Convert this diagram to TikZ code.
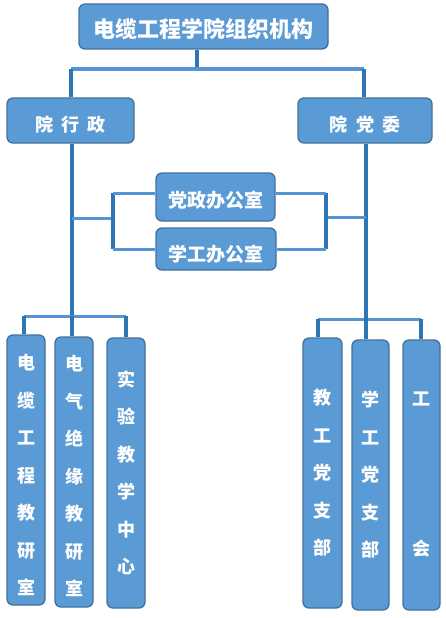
\documentclass[tikz,border=0pt]{standalone}
\usepackage{fontspec}
\newfontfamily\cjk{Noto Sans CJK SC}
\definecolor{boxc}{HTML}{5B9BD5}
\definecolor{bordc}{HTML}{41719C}
\definecolor{linedark}{HTML}{2E75B6}
\definecolor{linelight}{HTML}{5396D3}
\begin{document}
\begin{tikzpicture}[x=1pt,y=-1pt,
  box/.style={draw=bordc, fill=boxc, rounded corners=6pt, line width=1.3pt, text=white, font=\cjk\bfseries, inner sep=0pt, align=center},
  vbox/.style={box, minimum width=38pt, minimum height=270pt},
  vtext/.style={text=white, align=center, inner sep=0pt, font=\cjk\bfseries\fontsize{18}{37.5}\selectfont},
  vline/.style={draw=linedark, line width=3.5pt},
  hline/.style={draw=linelight, line width=3pt}]
\useasboundingbox (0,0) rectangle (446,618);
% nodes
\node[box, minimum width=249pt, minimum height=45pt, text height=22.5pt, text depth=0pt, font=\cjk\bfseries\fontsize{22}{24}\selectfont] (title) at (203.5,26.5) {电缆工程学院组织机构};
\node[box, minimum width=127pt, minimum height=45pt, text height=22pt, text depth=0pt, font=\cjk\bfseries\fontsize{18}{20}\selectfont] (xz) at (70.5,120.5) {院\hspace{8.5pt}行\hspace{8.5pt}政};
\node[box, minimum width=134pt, minimum height=45pt, text height=22pt, text depth=0pt, font=\cjk\bfseries\fontsize{18}{20}\selectfont] (dw) at (365,120.5) {院\hspace{8.5pt}党\hspace{8.5pt}委};
\node[box, minimum width=119pt, minimum height=48pt, text height=21pt, text depth=0pt, font=\cjk\bfseries\fontsize{19}{22}\selectfont] (dzb) at (215.5,197) {党政办公室};
\node[box, minimum width=120pt, minimum height=42pt, text height=24pt, text depth=0pt, font=\cjk\bfseries\fontsize{19}{22}\selectfont] (xgb) at (216,249) {学工办公室};
\node[vbox, label={[vtext, name=b1t, yshift=-5pt]center:电\\缆\\工\\程\\教\\研\\室}] (b1) at (26,470) {};
\node[vbox, label={[vtext, name=b2t, yshift=-4pt]center:电\\气\\绝\\缘\\教\\研\\室}] (b2) at (74,472) {};
\node[vbox, label={[vtext, name=b3t]center:实\\验\\教\\学\\中\\心}] (b3) at (126,473) {};
\node[vbox, minimum width=39pt, label={[vtext, name=b4t]center:教\\工\\党\\支\\部}] (b4) at (322.5,473) {};
\node[vbox, minimum width=37pt, label={[vtext, name=b5t]center:学\\工\\党\\支\\部}] (b5) at (370.5,475) {};
\node[vbox, minimum width=37pt, label={[vtext, name=b6t]center:工\\[112.5pt]会}] (b6) at (421.5,475) {};
% junction coordinates
\coordinate (j0) at (197,69);
\coordinate (jL) at (71,69);
\coordinate (jR) at (364,69);
\coordinate (kL) at (72,316);
\coordinate (kR) at (366,318);
\coordinate (mL) at (72,218);
\coordinate (bL) at (113,218);
\coordinate (bLt) at (113,193);
\coordinate (bLb) at (113,249);
\coordinate (mR) at (366,217);
\coordinate (bR) at (326,217);
\coordinate (bRt) at (326,193);
\coordinate (bRb) at (326,249);
\coordinate (l1) at (24,316);
\coordinate (l3) at (126,316);
\coordinate (r1) at (318,319);
\coordinate (r3) at (421,319);
% connectors
\draw[vline] (title.south -| j0) -- (j0);
\draw[hline] (jL) -- (jR);
\draw[vline] (jL) -- (xz.north -| jL);
\draw[vline] (jR) -- (dw.north -| jR);
\draw[vline] (xz.south -| kL) -- (kL);
\draw[vline] (dw.south -| kR) -- (kR);
\draw[hline] (mL) -- (bL);
\draw[vline] (bLt) -- (bLb);
\draw[hline] (bLt) -- (dzb.west |- bLt);
\draw[hline] (bLb) -- (xgb.west |- bLb);
\draw[hline] (mR) -- (bR);
\draw[vline] (bRt) -- (bRb);
\draw[hline] (bRt) -- (dzb.east |- bRt);
\draw[hline] (bRb) -- (xgb.east |- bRb);
\draw[hline] (l1) -- (l3);
\draw[vline] (l1) -- (b1.north -| l1);
\draw[vline] (kL) -- (b2.north -| kL);
\draw[vline] (l3) -- (b3.north -| l3);
\draw[hline] (r1) -- (r3);
\draw[vline] (r1) -- (b4.north -| r1);
\draw[vline] (kR) -- (b5.north -| kR);
\draw[vline] (r3) -- (b6.north -| r3);
\end{tikzpicture}
\end{document}
